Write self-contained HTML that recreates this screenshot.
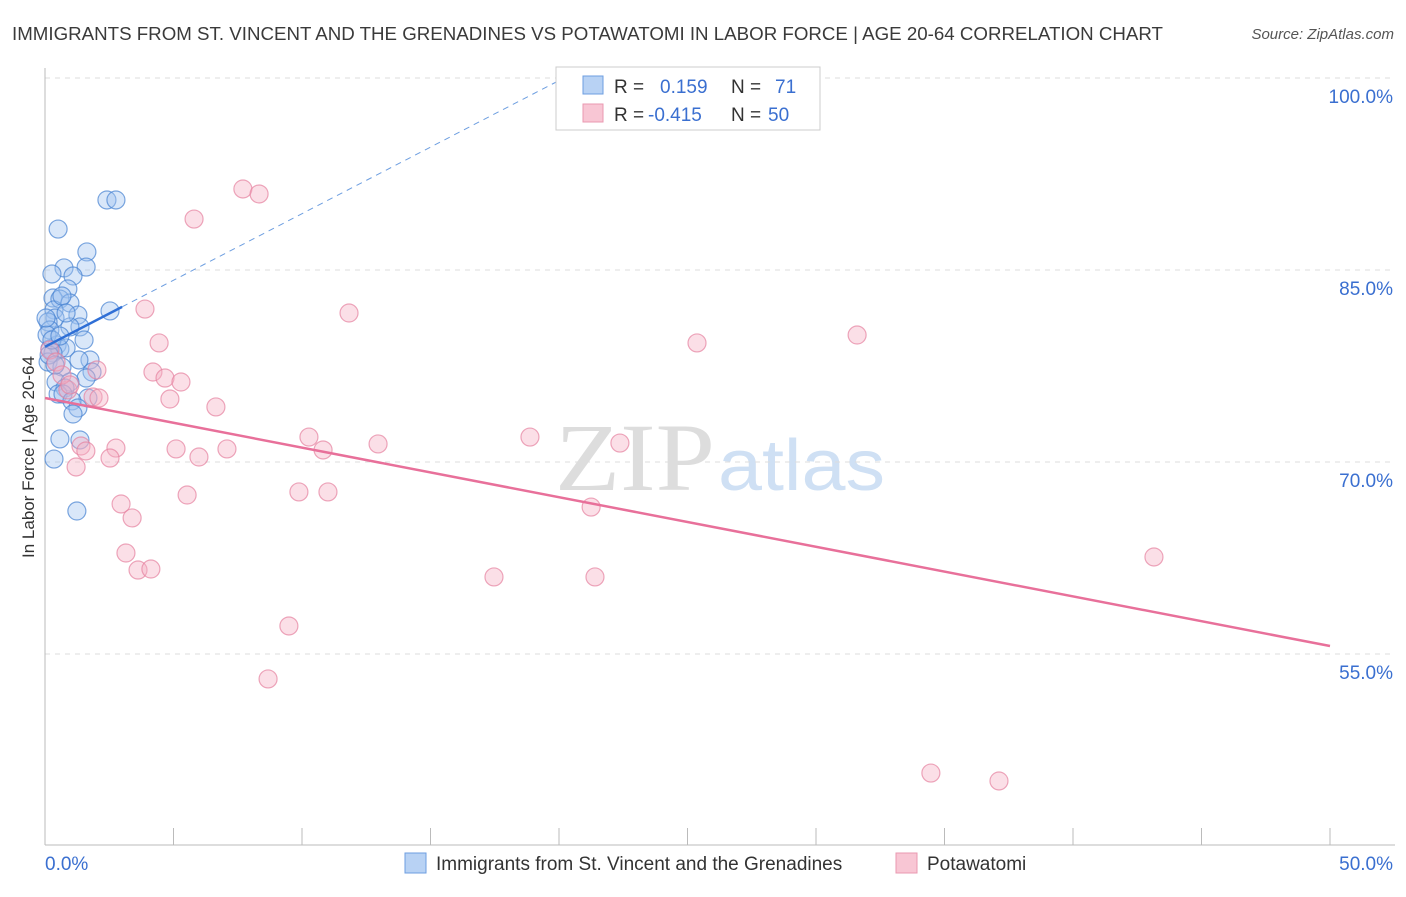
<!DOCTYPE html>
<html><head><meta charset="utf-8"><style>
body{margin:0;background:#fff;font-family:"Liberation Sans",sans-serif;}
</style></head><body>
<svg id="chart" width="1406" height="892" xmlns="http://www.w3.org/2000/svg" font-family="Liberation Sans, sans-serif">
<text x="12" y="40" font-size="18" fill="#3a3a3a" textLength="1151" lengthAdjust="spacingAndGlyphs">IMMIGRANTS FROM ST. VINCENT AND THE GRENADINES VS POTAWATOMI IN LABOR FORCE | AGE 20-64 CORRELATION CHART</text>
<text x="1394" y="39" font-size="15" fill="#555" font-style="italic" text-anchor="end">Source: ZipAtlas.com</text>
<text x="555" y="490" font-size="96" font-family="Liberation Serif, serif" fill="#ddd" textLength="160" lengthAdjust="spacingAndGlyphs">ZIP</text>
<text x="718" y="490" font-size="72" fill="#cfe0f4" textLength="167" lengthAdjust="spacingAndGlyphs">atlas</text>
<text transform="translate(34,457) rotate(-90)" font-size="17" fill="#333" text-anchor="middle">In Labor Force | Age 20-64</text>
<g id="grid"></g><g id="marks"></g>
<g>
<rect x="556" y="67" width="264" height="63" fill="#fff" stroke="#ccc"/>
<rect x="583" y="76" width="20" height="18" fill="#b8d2f4" stroke="#6d9ee0"/>
<rect x="583" y="104" width="20" height="18" fill="#f8c6d4" stroke="#ea98b0"/>
<text x="614" y="93" font-size="19" fill="#333">R = <tspan fill="#3a6fd0" x="660">0.159</tspan><tspan x="731" fill="#333">N = </tspan><tspan fill="#3a6fd0" x="775">71</tspan></text>
<text x="614" y="121" font-size="19" fill="#333">R = <tspan fill="#3a6fd0" x="648">-0.415</tspan><tspan x="731" fill="#333">N = </tspan><tspan fill="#3a6fd0" x="768">50</tspan></text>
</g>
<g>
<rect x="405" y="853" width="21" height="20" fill="#b8d2f4" stroke="#6d9ee0"/>
<text x="436" y="870" font-size="19" fill="#333">Immigrants from St. Vincent and the Grenadines</text>
<rect x="896" y="853" width="21" height="20" fill="#f8c6d4" stroke="#ea98b0"/>
<text x="927" y="870" font-size="19" fill="#333">Potawatomi</text>
</g>
<text x="45" y="870" font-size="19" fill="#3a6fd0">0.0%</text>
<text x="1393" y="870" font-size="19" fill="#3a6fd0" text-anchor="end">50.0%</text>
</svg>
<script>
const yTicks=[100,85,70,55];
const yTickLabels=["100.0%","85.0%","70.0%","55.0%"];
const xTicks=[0,5,10,15,20,25,30,35,40,45,50];
const blueX=[2.41,2.76,0.51,1.63,1.60,0.74,0.27,1.09,0.89,0.31,0.58,0.97,0.35,1.28,2.53,0.39,0.12,1.36,0.97,0.19,1.52,0.47,0.19,0.58,0.82,0.31,1.75,1.32,0.12,0.66,1.83,1.60,0.43,0.97,0.78,0.51,0.70,1.67,1.05,1.28,1.09,0.58,1.36,0.35,1.24,0.08,0.16,0.27,0.04,0.39,0.58,0.66,0.82];
const blueY=[90.47,90.47,88.20,86.41,85.23,85.16,84.69,84.53,83.52,82.81,82.73,82.42,81.88,81.48,81.80,81.25,80.94,80.55,80.55,80.31,79.53,79.14,78.83,78.83,78.91,78.52,77.97,77.97,77.81,77.42,77.03,76.56,76.25,76.25,75.78,75.31,75.31,75.00,74.77,74.22,73.75,71.80,71.72,70.23,66.17,79.92,78.36,79.53,81.25,77.58,79.84,82.97,81.64];
const pinkX=[7.70,8.33,5.80,3.89,11.83,31.60,25.37,4.44,2.02,4.20,4.67,5.29,0.89,1.87,2.10,4.86,6.65,10.27,18.87,12.96,22.37,2.76,1.40,1.59,5.10,7.08,10.82,5.99,2.53,1.21,5.53,9.88,11.01,2.96,21.25,3.39,3.15,43.15,3.62,4.12,17.47,21.40,9.49,8.68,34.47,37.12,0.19,0.43,0.66,0.97];
const pinkY=[91.33,90.94,88.98,81.95,81.64,79.92,79.30,79.30,77.19,77.03,76.56,76.25,75.63,75.08,75.00,74.92,74.30,71.95,71.95,71.41,71.48,71.09,71.25,70.86,71.02,71.02,70.94,70.39,70.31,69.61,67.42,67.66,67.66,66.72,66.48,65.63,62.89,62.58,61.56,61.64,61.02,61.02,57.19,53.05,45.70,45.08,78.75,77.81,76.80,76.02];
const blueTrend=[79.0,1.04,3,20];
const pinkTrend=[75.0,-0.3875,0,50];
const NS="http://www.w3.org/2000/svg";
const sx=v=>45+v/50*1285, sy=v=>78+(100-v)/15*192;
function mk(t,a,p){const e=document.createElementNS(NS,t);for(const k in a)e.setAttribute(k,a[k]);p.appendChild(e);return e;}
const g=document.getElementById('grid'), m=document.getElementById('marks');
yTicks.forEach((t,i)=>{
 const l=mk('line',{x1:45,x2:1395,y1:sy(t),y2:sy(t),stroke:'#ddd','stroke-dasharray':'5,5'},g);
 
 
 const tx=mk('text',{x:1393,y:sy(t)+25,'font-size':19,fill:'#3a6fd0','text-anchor':'end'},g);
 tx.textContent=yTickLabels[i];
 
 
});
const ax=mk('line',{x1:45,x2:45,y1:68,y2:845,stroke:'#bbb'},g);


const bx=mk('line',{x1:45,x2:1395,y1:845,y2:845,stroke:'#bbb'},g);


xTicks.forEach(t=>{
 const l=mk('line',{x1:sx(t),x2:sx(t),y1:828,y2:845,stroke:'#bbb'},g);
 
 
});
blueX.forEach((x,i)=>{
 const c=mk('circle',{cx:sx(x),cy:sy(blueY[i]),r:9,fill:'rgba(160,196,240,0.4)',stroke:'rgba(70,130,210,0.7)','stroke-width':1.2},m);
 
 
});
pinkX.forEach((x,i)=>{
 const c=mk('circle',{cx:sx(x),cy:sy(pinkY[i]),r:9,fill:'rgba(245,175,195,0.4)',stroke:'rgba(230,130,160,0.7)','stroke-width':1.2},m);
 
 
});
const [b0,b1,bs,be]=blueTrend;
const bl=mk('line',{x1:sx(0),y1:sy(b0),x2:sx(bs),y2:sy(b0+b1*bs),stroke:'#2f6fd6','stroke-width':2.5},m);


const bd=mk('line',{x1:sx(bs),y1:sy(b0+b1*bs),x2:sx(be),y2:sy(b0+b1*be),stroke:'#6d9ee0','stroke-width':1,'stroke-dasharray':'6,5'},m);


const [p0,p1,ps,pe]=pinkTrend;
const pl=mk('line',{x1:sx(ps),y1:sy(p0+p1*ps),x2:sx(pe),y2:sy(p0+p1*pe),stroke:'#e8709a','stroke-width':2.5},m);


</script>
</body></html>
